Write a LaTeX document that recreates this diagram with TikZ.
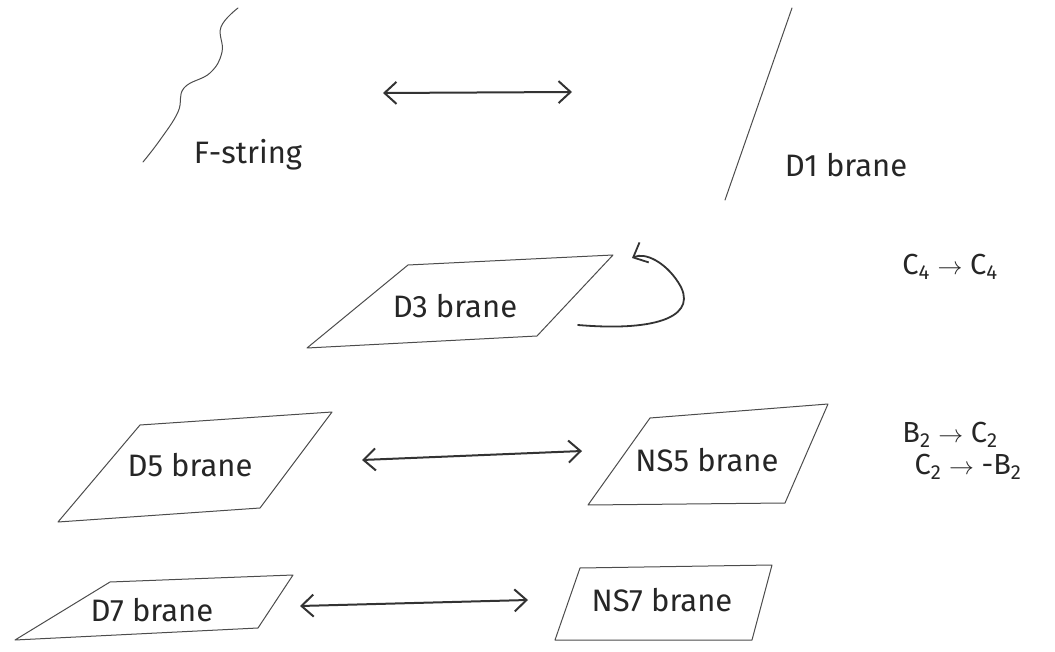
\documentclass[tikz,border=0pt]{standalone}
\usepackage{fontspec}
\setmainfont{Fira Sans}
\usetikzlibrary{arrows.meta}
\begin{document}
\begin{tikzpicture}[x=1pt,y=-1pt,
  sketch/.style={draw=black!70,line width=1pt,line join=round,line cap=round},
  dual/.style={sketch,draw=black!80,line width=2pt,{Straight Barb[length=12pt,width=22pt]}-{Straight Barb[length=12pt,width=22pt]}},
  loopar/.style={sketch,draw=black!80,line width=1.8pt,-{Straight Barb[length=12pt,width=22pt]}},
  lbl/.style={font=\fontsize{31}{36}\selectfont,inner sep=0pt,text=black!85},
  rule/.style={font=\fontsize{29}{32}\selectfont,inner sep=0pt,text=black!85}]
\useasboundingbox (0,0) rectangle (1055,652);
% F-string
\draw[sketch] plot[smooth,tension=0.7] coordinates {(238,8) (221,27) (222,52) (210,73) (184,88) (178,112) (160,140) (143,162)};
\node[lbl] (fs) at (248,155) {F-string};
% D1 brane
\coordinate (d1t) at (792,8);
\coordinate (d1b) at (725,200);
\draw[sketch] (d1t) -- (d1b);
\node[lbl] (d1) at (846,165) {D1 brane};
% top arrow
\coordinate (ta) at (383,93);
\coordinate (tb) at (572,92);
\draw[dual] (ta) -- (tb);
% D3 brane
\coordinate (d3a) at (408,265);
\coordinate (d3b) at (613,255);
\coordinate (d3c) at (537,336);
\coordinate (d3d) at (307,348);
\draw[sketch] (d3a) -- (d3b) -- (d3c) -- (d3d) -- cycle;
\node[lbl] (d3) at (455,306) {D3 brane};
\coordinate (la) at (578,325);
\coordinate (lb) at (632,258);
\draw[loopar] (la) .. controls (660,332) and (700,315) .. (678,282) .. controls (665,262) and (645,252) .. (lb);
\node[rule] (c4) at (950,267) {C\textsubscript{4} $\to$ C\textsubscript{4}};
% D5 / NS5
\coordinate (d5a) at (140,425);
\coordinate (d5b) at (332,412);
\coordinate (d5c) at (260,508);
\coordinate (d5d) at (58,522);
\draw[sketch] (d5a) -- (d5b) -- (d5c) -- (d5d) -- cycle;
\node[lbl] (d5) at (190,465) {D5 brane};
\coordinate (n5a) at (650,418);
\coordinate (n5b) at (828,404);
\coordinate (n5c) at (785,503);
\coordinate (n5d) at (588,505);
\draw[sketch] (n5a) -- (n5b) -- (n5c) -- (n5d) -- cycle;
\node[lbl] (ns5) at (707,460) {NS5 brane};
\coordinate (ma) at (362,460);
\coordinate (mb) at (582,451);
\draw[dual] (ma) -- (mb);
\node[rule] (bc) at (950,435) {B\textsubscript{2} $\to$ C\textsubscript{2}};
\node[rule] (cb) at (968,467) {C\textsubscript{2} $\to$ -B\textsubscript{2}};
% D7 / NS7
\coordinate (d7a) at (110,582);
\coordinate (d7b) at (293,575);
\coordinate (d7c) at (258,628);
\coordinate (d7d) at (15,640);
\draw[sketch] (d7a) -- (d7b) -- (d7c) -- (d7d) -- cycle;
\node[lbl] (d7) at (152,610) {D7 brane};
\coordinate (n7a) at (580,568);
\coordinate (n7b) at (772,565);
\coordinate (n7c) at (752,640);
\coordinate (n7d) at (555,640);
\draw[sketch] (n7a) -- (n7b) -- (n7c) -- (n7d) -- cycle;
\node[lbl] (ns7) at (662,600) {NS7 brane};
\coordinate (ba) at (300,606);
\coordinate (bb) at (528,600);
\draw[dual] (ba) -- (bb);
\end{tikzpicture}
\end{document}
